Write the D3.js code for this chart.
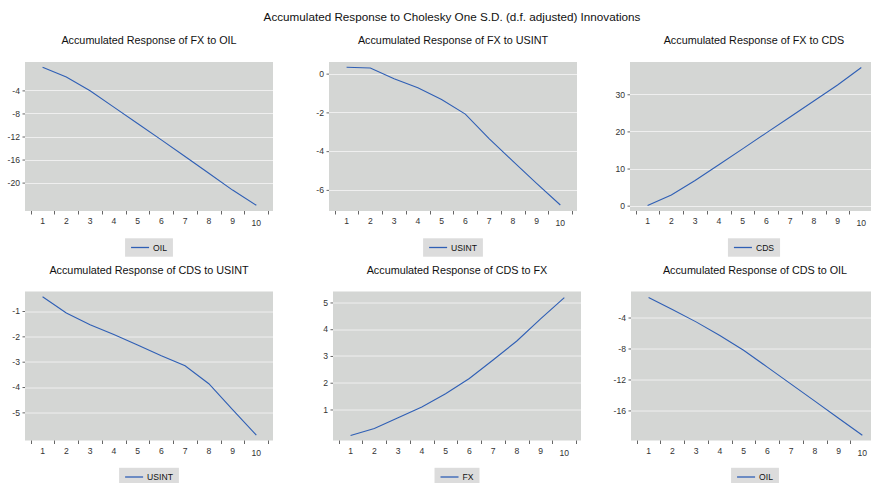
<!DOCTYPE html>
<html>
<head>
<meta charset="utf-8">
<script src="https://cdn.jsdelivr.net/npm/d3@7/dist/d3.min.js"></script>
<style>
  body { margin: 0; background: #fff; }
  svg { display: block; font-family: "Liberation Sans", Arial, sans-serif; }
  .tick text { fill: #333; font-size: 8.6px; }
</style>
</head>
<body>
<svg id="chart" width="871" height="483"></svg>
<script>
const periods = ['1', '2', '3', '4', '5', '6', '7', '8', '9', '10']

const fxOil = [0.0, -1.68, -4.06, -6.9, -9.74, -12.58, -15.48, -18.38, -21.3, -23.94]
const fxUsint = [0.33, 0.29, -0.27, -0.73, -1.34, -2.09, -3.35, -4.52, -5.66, -6.78]
const fxCds = [0.05, 2.9, 6.8, 11.0, 15.3, 19.6, 23.9, 28.2, 32.5, 37.2]
const cdsUsint = [-0.44, -1.08, -1.54, -1.93, -2.34, -2.77, -3.16, -3.87, -4.89, -5.9]
const cdsFx = [0.03, 0.29, 0.69, 1.09, 1.59, 2.16, 2.85, 3.56, 4.39, 5.18]
const cdsOil = [-1.41, -2.97, -4.56, -6.33, -8.22, -10.4, -12.6, -14.8, -17.0, -19.2]

const titles = [
  'Accumulated Response of FX to OIL',
  'Accumulated Response of FX to USINT',
  'Accumulated Response of FX to CDS',
  'Accumulated Response of CDS to USINT',
  'Accumulated Response of CDS to FX',
  'Accumulated Response of CDS to OIL'
]
const legendNames = ['OIL', 'USINT', 'CDS', 'USINT', 'FX', 'OIL']
const series = [fxOil, fxUsint, fxCds, cdsUsint, cdsFx, cdsOil]
const yDomains = [[-24.93, 0.93], [-7.09, 0.6], [-1.44, 38.7], [-6.11, -0.23], [-0.16, 5.41], [-19.88, -0.64]]
const yTicks = [
  [-4, -8, -12, -16, -20],
  [0, -2, -4, -6],
  [0, 10, 20, 30],
  [-1, -2, -3, -4, -5],
  [1, 2, 3, 4, 5],
  [-4, -8, -12, -16]
]

// plot frames (left, top) for the 3x2 grid
const frames = [[25, 62], [329, 62], [630, 62], [25, 291.5], [333, 291.5], [631, 291.5]]
const pw = 248
const ph = 149

const svg = d3.select('#chart')

svg.append('text')
  .attr('x', 452).attr('y', 21)
  .attr('text-anchor', 'middle')
  .style('font-size', '11.7px')
  .style('fill', '#111')
  .text('Accumulated Response to Cholesky One S.D. (d.f. adjusted) Innovations')

series.forEach(function (values, i) {
  const [left, top] = frames[i]
  const g = svg.append('g').attr('transform', `translate(${left}, ${top})`)

  const x = d3.scaleBand().domain(periods).range([5.7, pw - 4.8])
  const y = d3.scaleLinear().domain(yDomains[i]).range([ph, 0])

  g.append('rect')
    .attr('width', pw).attr('height', ph)
    .style('fill', '#d4d6d4')

  // grid
  g.append('g').selectAll('line').data(yTicks[i]).enter().append('line')
    .attr('x1', 0).attr('x2', pw)
    .attr('y1', d => Math.round(y(d)) + 0.5).attr('y2', d => Math.round(y(d)) + 0.5)
    .style('stroke', '#efefef')
    .style('stroke-width', 1)

  const yAxis = g.append('g')
    .call(d3.axisLeft(y).tickValues(yTicks[i]).tickSize(2.5).tickPadding(2.5).tickFormat(d => String(d)))
  yAxis.select('.domain').remove()
  yAxis.selectAll('.tick line').style('stroke', '#666')

  // x axis: labels at band centres, tick marks at band edges
  const xAxis = g.append('g').attr('transform', `translate(0, ${ph})`)
    .call(d3.axisBottom(x).tickSize(0).tickPadding(6))
  xAxis.select('.domain').remove()
  xAxis.selectAll('.tick text').attr('dy', d => d.length > 1 ? '1.05em' : '0.85em')

  const edges = periods.map(p => x(p)).concat([x(periods[periods.length - 1]) + x.bandwidth()])
  g.append('g').selectAll('line').data(edges).enter().append('line')
    .attr('x1', d => Math.round(d) + 0.5).attr('x2', d => Math.round(d) + 0.5)
    .attr('y1', ph).attr('y2', ph + 3.5)
    .style('stroke', '#666')

  const line = d3.line()
    .x((d, k) => x(periods[k]) + x.bandwidth() / 2)
    .y(d => y(d))

  g.append('path')
    .datum(values)
    .attr('d', line)
    .style('fill', 'none')
    .style('stroke', '#2f5fb5')
    .style('stroke-width', 1.1)

  g.append('text')
    .attr('x', pw / 2).attr('y', -17.6)
    .attr('text-anchor', 'middle')
    .style('font-size', '10.8px')
    .style('fill', '#111')
    .text(titles[i])

  // legend
  const lg = g.append('g')
  const label = lg.append('text')
    .attr('y', ph + 27.3 + 12.3)
    .style('font-size', '8.6px')
    .style('fill', '#111')
    .text(legendNames[i])
  const tw = label.node().getComputedTextLength()
  const bw = 6 + 18 + 4 + tw + 6
  const bx = pw / 2 - bw / 2
  lg.insert('rect', 'text')
    .attr('x', bx).attr('y', ph + 27.3)
    .attr('width', bw).attr('height', 18.4)
    .style('fill', '#dcdcdc')
  lg.append('line')
    .attr('x1', bx + 6).attr('x2', bx + 24)
    .attr('y1', ph + 27.3 + 9.2).attr('y2', ph + 27.3 + 9.2)
    .style('stroke', '#2f5fb5')
    .style('stroke-width', 1.3)
  label.attr('x', bx + 28)
})
</script>
</body>
</html>
